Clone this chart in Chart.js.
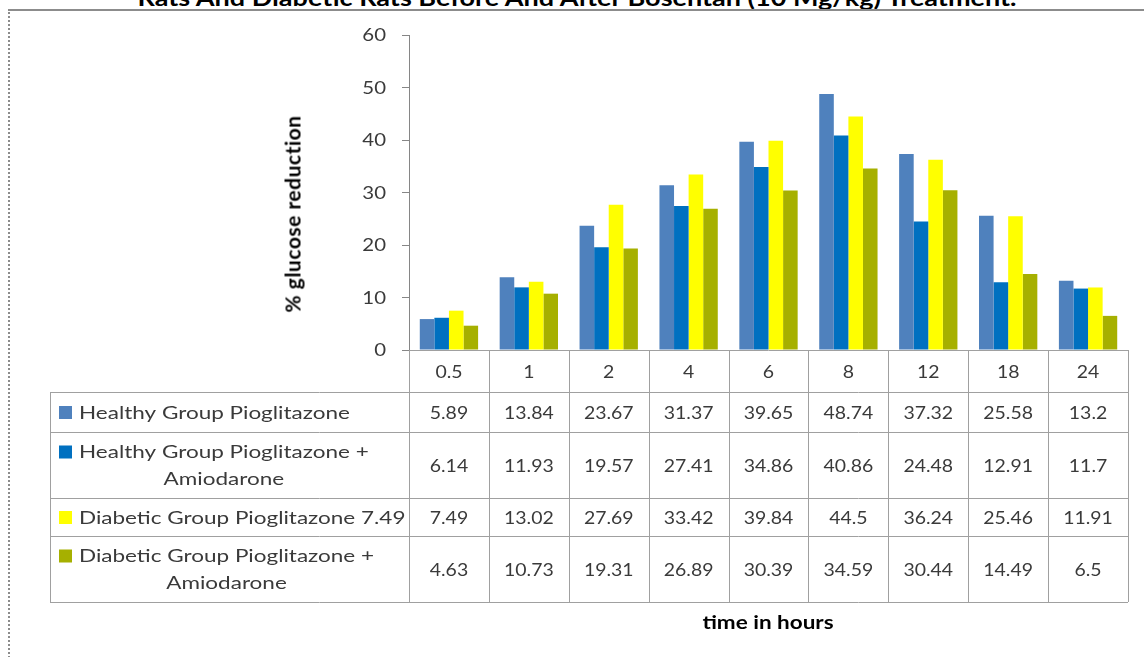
<!DOCTYPE html>
<html>
<head>
<meta charset="utf-8">
<script src="https://cdn.jsdelivr.net/npm/chart.js@4.4.1/dist/chart.umd.min.js"></script>
<style>
  html, body { margin:0; padding:0; background:#fff; }
  body { width:1144px; height:657px; position:relative; overflow:hidden; }
  #frame { position:absolute; left:8px; top:9px; width:1200px; height:700px; border-top:2px solid #8c8c8c; border-left:2px dotted #8c8c8c; box-sizing:border-box; }
  #wrap { position:absolute; left:0; top:0; width:1144px; height:657px; }
  #title { position:absolute; left:577px; top:-13px; transform-origin:50% 50%; font-family:Lato, sans-serif; font-weight:bold; font-size:22px; line-height:22px; color:#000; white-space:nowrap; }
  #ytitle { position:absolute; left:292px; top:214px; transform:translate(-50%,-50%) rotate(-90deg); font-family:Lato, sans-serif; font-weight:bold; font-size:21px; letter-spacing:0.5px; color:#000; white-space:nowrap; }
  #xtitle { position:absolute; left:768px; top:622px; transform:translate(-50%,-50%) scaleX(1.25); font-family:Lato, sans-serif; font-weight:bold; font-size:18px; color:#000; white-space:nowrap; }
</style>
</head>
<body>
<div id="title">Rats And Diabetic Rats Before And After Bosentan (10 Mg/kg) Treatment.</div>
<div id="frame"></div>
<div id="wrap"><canvas id="c" width="1144" height="657"></canvas></div>
<div id="ytitle">% glucose reduction</div>
<div id="xtitle">time in hours</div>
<script>
const categories = ["0.5", "1", "2", "4", "6", "8", "12", "18", "24"];
const seriesNames = [
  ["Healthy Group Pioglitazone"],
  ["Healthy Group Pioglitazone +", "Amiodarone"],
  ["Diabetic Group Pioglitazone 7.49"],
  ["Diabetic Group Pioglitazone +", "Amiodarone"]
];
const healthyPio = [5.89, 13.84, 23.67, 31.37, 39.65, 48.74, 37.32, 25.58, 13.2];
const healthyPioAmio = [6.14, 11.93, 19.57, 27.41, 34.86, 40.86, 24.48, 12.91, 11.7];
const diabeticPio = [7.49, 13.02, 27.69, 33.42, 39.84, 44.5, 36.24, 25.46, 11.91];
const diabeticPioAmio = [4.63, 10.73, 19.31, 26.89, 30.39, 34.59, 30.44, 14.49, 6.5];
const yTicks = [0, 10, 20, 30, 40, 50, 60];
const colors = ["#4F81BD", "#0070C0", "#FFFF00", "#A6B000"];

const seriesData = [healthyPio, healthyPioAmio, diabeticPio, diabeticPioAmio];

(function () {
  const t = document.getElementById("title");
  const w = t.getBoundingClientRect().width;
  const s = 879 / w;
  t.style.transform = "translateX(-50%) scaleX(" + s + ")";
})();

const gridColor = "#a0a0a0";
const textColor = "#3a3a3a";
const rowEdges = [350, 392, 432, 498, 536, 602];
const tableLeft = 50;
const stretch = 1.25;

function fillStretched(ctx, text, x, y, align, sx) {
  ctx.save();
  ctx.translate(x, y);
  ctx.scale(sx, 1);
  ctx.textAlign = align;
  ctx.fillText(text, 0, 0);
  ctx.restore();
}

const tablePlugin = {
  id: "dataTable",
  afterDraw(chart) {
    const ctx = chart.ctx;
    const xs = chart.scales.x;
    const ys = chart.scales.y;
    const area = chart.chartArea;
    const n = categories.length;
    const half = area.width / n / 2;
    const bounds = [];
    for (let i = 0; i < n; i++) bounds.push(xs.getPixelForValue(i) - half);
    bounds.push(xs.getPixelForValue(n - 1) + half);
    ctx.save();

    ctx.font = "17px Lato, sans-serif";
    ctx.fillStyle = textColor;
    ctx.textBaseline = "middle";
    yTicks.forEach(v => fillStretched(ctx, String(v), 386, ys.getPixelForValue(v) + 1, "right", 1.2));

    ctx.strokeStyle = gridColor;
    ctx.lineWidth = 1;
    ctx.beginPath();
    ctx.moveTo(bounds[0], rowEdges[0] + 0.5); ctx.lineTo(bounds[n], rowEdges[0] + 0.5);
    for (let r = 1; r < rowEdges.length; r++) {
      ctx.moveTo(tableLeft, rowEdges[r] + 0.5); ctx.lineTo(bounds[n], rowEdges[r] + 0.5);
    }
    for (let i = 0; i <= n; i++) {
      const x = Math.round(bounds[i]) + 0.5;
      ctx.moveTo(x, rowEdges[0]); ctx.lineTo(x, rowEdges[rowEdges.length - 1]);
    }
    ctx.moveTo(tableLeft + 0.5, rowEdges[1]); ctx.lineTo(tableLeft + 0.5, rowEdges[rowEdges.length - 1]);
    ctx.stroke();

    ctx.font = "18px Lato, sans-serif";
    ctx.fillStyle = textColor;
    ctx.textBaseline = "middle";
    for (let i = 0; i < n; i++) {
      fillStretched(ctx, categories[i], xs.getPixelForValue(i), (rowEdges[0] + rowEdges[1]) / 2 + 1, "center", 1.08);
    }
    for (let s = 0; s < seriesData.length; s++) {
      const yTop = rowEdges[s + 1], yBot = rowEdges[s + 2];
      const yMid = (yTop + yBot) / 2;
      ctx.font = "18px Lato, sans-serif";
      ctx.fillStyle = textColor;
      for (let i = 0; i < n; i++) {
        fillStretched(ctx, String(seriesData[s][i]), xs.getPixelForValue(i), yMid + 1, "center", 1.08);
      }
      const lines = seriesNames[s];
      const lh = 27;
      const startY = yMid - (lines.length - 1) * lh / 2;
      ctx.font = "18px Lato, sans-serif";
      const firstW = ctx.measureText(lines[0]).width * stretch;
      const textX = 79;
      ctx.fillStyle = colors[s];
      ctx.fillRect(59, startY - 6, 13, 13);
      ctx.fillStyle = textColor;
      fillStretched(ctx, lines[0], textX, startY + 1, "left", stretch);
      for (let l = 1; l < lines.length; l++) {
        fillStretched(ctx, lines[l], textX + firstW / 2, startY + l * lh + 1, "center", stretch);
      }
    }
    ctx.restore();
  }
};

new Chart(document.getElementById("c"), {
  type: "bar",
  data: {
    labels: categories,
    datasets: seriesData.map((d, i) => ({
      label: seriesNames[i].join(" "),
      data: d,
      backgroundColor: colors[i],
      borderWidth: 0,
      categoryPercentage: 0.73,
      barPercentage: 1.0
    }))
  },
  options: {
    responsive: false,
    animation: false,
    devicePixelRatio: 1,
    layout: { padding: { left: 0, top: 35, right: 16, bottom: 307 } },
    plugins: { legend: { display: false }, tooltip: { enabled: false }, title: { display: false } },
    scales: {
      x: { display: false },
      y: {
        min: 0, max: 60,
        afterFit(scale) { scale.width = 409; },
        afterBuildTicks(scale) { scale.ticks = yTicks.map(v => ({ value: v })); },
        ticks: { display: false },
        grid: { drawOnChartArea: false, drawTicks: true, tickLength: 7, color: "#868686" },
        border: { display: true, color: "#868686", width: 1 }
      }
    }
  },
  plugins: [tablePlugin]
});
</script>
</body>
</html>
